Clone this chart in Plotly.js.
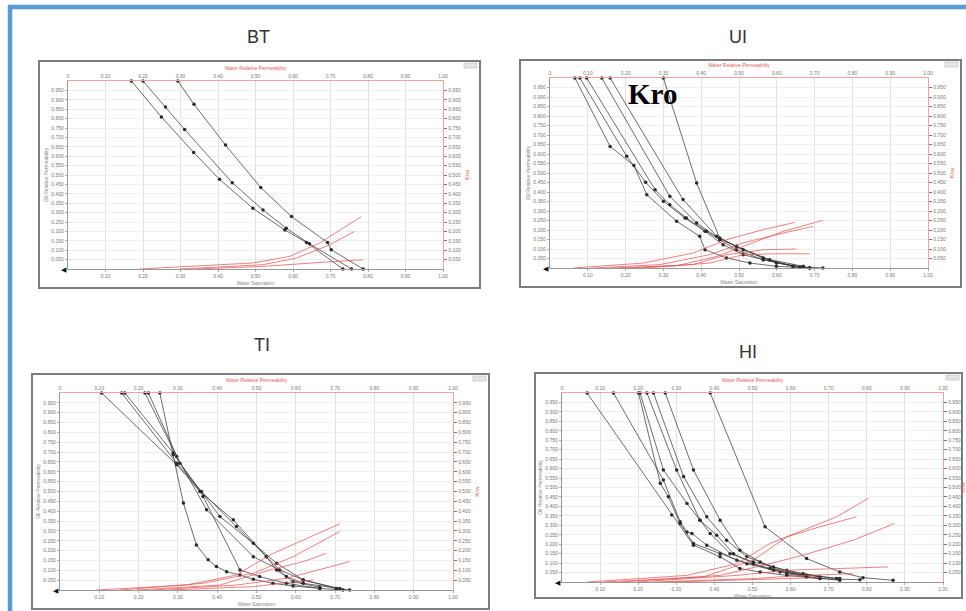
<!DOCTYPE html>
<html>
<head>
<meta charset="utf-8">
<script src="https://cdn.plot.ly/plotly-3.0.1.min.js"></script>
<style>html,body{margin:0;padding:0;background:#fff;}#chart{width:966px;height:611px;}</style>
</head>
<body>
<div id="chart"></div>
<script>
// ---------------- DATA (water saturation Sw, relative permeabilities) ----------------
const panelNames = ["BT", "UI", "TI", "HI"];
const axisTicks = [0.1,0.2,0.3,0.4,0.5,0.6,0.7,0.8,0.9,1];
const krTicks = [0.05,0.1,0.15,0.2,0.25,0.3,0.35,0.4,0.45,0.5,0.55,0.6,0.65,0.7,0.75,0.8,0.85,0.9,0.95];

// BT
const BT_kro_sw = [
  [0.169,0.249,0.335,0.404,0.493,0.578,0.636,0.733],
  [0.2,0.26,0.311,0.438,0.52,0.582,0.644,0.756],
  [0.293,0.336,0.42,0.514,0.596,0.692,0.702,0.787]
];
const BT_kro = [
  [1,0.809,0.62,0.477,0.323,0.208,0.141,0],
  [1,0.862,0.742,0.459,0.314,0.217,0.134,0],
  [1,0.876,0.659,0.433,0.279,0.141,0.102,0]
];
const BT_krw_sw = [
  [0.191,0.493,0.591,0.671,0.782],
  [0.298,0.52,0.609,0.698,0.764],
  [0.342,0.52,0.653,0.787]
];
const BT_krw = [
  [0,0.032,0.067,0.138,0.279],
  [0,0.023,0.058,0.129,0.2],
  [0,0.014,0.032,0.049]
];

// UI
const UI_kro_sw = [
  [0.066,0.159,0.222,0.256,0.335,0.396,0.41,0.467,0.529,0.599,0.687],
  [0.079,0.203,0.253,0.3,0.357,0.41,0.458,0.511,0.564,0.643,0.722],
  [0.097,0.278,0.317,0.361,0.414,0.449,0.493,0.564,0.661],
  [0.137,0.317,0.388,0.449,0.511,0.599,0.687],
  [0.159,0.352,0.441,0.493,0.581,0.67],
  [0.3,0.388,0.449,0.493,0.564,0.643]
];
const UI_kro = [
  [1,0.64,0.539,0.386,0.246,0.167,0.096,0.053,0.026,0.009,0],
  [1,0.588,0.451,0.351,0.263,0.193,0.123,0.07,0.044,0.009,0],
  [1,0.412,0.333,0.263,0.193,0.149,0.096,0.044,0.005],
  [1,0.377,0.237,0.153,0.096,0.026,0],
  [1,0.36,0.167,0.114,0.044,0.009],
  [1,0.447,0.158,0.114,0.053,0.009]
];
const UI_krw_sw = [
  [0.062,0.247,0.379,0.467,0.564,0.648],
  [0.115,0.291,0.423,0.511,0.617,0.696],
  [0.159,0.335,0.441,0.511,0.617,0.722],
  [0.203,0.379,0.467,0.564,0.652],
  [0.247,0.423,0.511,0.599,0.687]
];
const UI_krw = [
  [0,0.026,0.079,0.149,0.202,0.24],
  [0,0.018,0.07,0.132,0.184,0.219],
  [0,0.012,0.061,0.114,0.193,0.251],
  [0,0.018,0.07,0.096,0.1],
  [0,0.026,0.07,0.075,0.075]
];

// TI
const TI_kro_sw = [
  [0.106,0.297,0.356,0.441,0.525,0.576,0.619,0.703,0.737],
  [0.254,0.288,0.314,0.347,0.377,0.398,0.424,0.458,0.492,0.542,0.593,0.661,0.72],
  [0.157,0.297,0.36,0.449,0.525,0.551,0.593,0.661],
  [0.165,0.288,0.364,0.458,0.508,0.576,0.661],
  [0.216,0.297,0.373,0.492,0.559,0.619,0.703],
  [0.225,0.305,0.407,0.492,0.551,0.619,0.712]
];
const TI_kro = [
  [1,0.636,0.5,0.356,0.169,0.068,0.034,0.008,0],
  [1,0.686,0.441,0.229,0.153,0.119,0.093,0.076,0.054,0.034,0.02,0.008,0],
  [1,0.644,0.5,0.322,0.169,0.102,0.042,0.014],
  [1,0.695,0.475,0.102,0.068,0.034,0.008],
  [1,0.678,0.407,0.169,0.102,0.051,0.008],
  [1,0.644,0.373,0.237,0.136,0.051,0.007]
];
const TI_krw_sw = [
  [0.093,0.322,0.449,0.534,0.619,0.712],
  [0.153,0.364,0.492,0.593,0.712],
  [0.195,0.407,0.534,0.619,0.678],
  [0.237,0.449,0.576,0.661,0.737],
  [0.28,0.492,0.576,0.644]
];
const TI_krw = [
  [0,0.025,0.076,0.178,0.254,0.336],
  [0,0.034,0.085,0.169,0.297],
  [0,0.025,0.102,0.144,0.186],
  [0,0.025,0.059,0.102,0.144],
  [0,0.017,0.037,0.051]
];

// HI
const HI_kro_sw = [
  [0.066,0.288,0.345,0.415,0.467,0.52,0.59,0.677,0.782],
  [0.135,0.266,0.31,0.328,0.341,0.38,0.459,0.546,0.633,0.721],
  [0.201,0.258,0.279,0.31,0.345,0.415,0.485,0.555,0.642,0.729],
  [0.205,0.266,0.328,0.362,0.389,0.441,0.502,0.59,0.677],
  [0.223,0.301,0.362,0.406,0.45,0.502,0.572,0.642],
  [0.24,0.319,0.38,0.432,0.485,0.555,0.642,0.729],
  [0.271,0.345,0.415,0.467,0.52,0.59,0.677],
  [0.389,0.533,0.642,0.729,0.79,0.869]
];
const HI_kro = [
  [1,0.354,0.195,0.133,0.071,0.053,0.035,0.018,0.012],
  [1,0.54,0.319,0.265,0.257,0.195,0.115,0.071,0.044,0.018],
  [1,0.522,0.451,0.31,0.204,0.15,0.097,0.062,0.035,0.018],
  [1,0.593,0.416,0.327,0.257,0.15,0.106,0.062,0.027],
  [1,0.593,0.327,0.248,0.15,0.097,0.053,0.035],
  [1,0.558,0.345,0.221,0.133,0.08,0.027,0.009],
  [1,0.593,0.327,0.168,0.106,0.044,0.018],
  [1,0.292,0.124,0.053,0.023,0.009]
];
const HI_krw_sw = [
  [0.066,0.328,0.459,0.546,0.633,0.721,0.803],
  [0.109,0.371,0.502,0.59,0.677,0.773],
  [0.153,0.415,0.546,0.633,0.764,0.873],
  [0.197,0.459,0.59,0.721,0.856],
  [0.24,0.502,0.633,0.764],
  [0.284,0.52,0.677]
];
const HI_krw = [
  [0,0.035,0.097,0.204,0.274,0.345,0.442],
  [0,0.027,0.115,0.239,0.292,0.345],
  [0,0.035,0.097,0.142,0.221,0.31],
  [0,0.035,0.062,0.071,0.08],
  [0,0.018,0.035,0.044],
  [0,0.012,0.023]
];

const panelData = [
  {kroSw: BT_kro_sw, kro: BT_kro, krwSw: BT_krw_sw, krw: BT_krw},
  {kroSw: UI_kro_sw, kro: UI_kro, krwSw: UI_krw_sw, krw: UI_krw},
  {kroSw: TI_kro_sw, kro: TI_kro, krwSw: TI_krw_sw, krw: TI_krw},
  {kroSw: HI_kro_sw, kro: HI_kro, krwSw: HI_krw_sw, krw: HI_krw}
];

// ---------------- LAYOUT GEOMETRY (pixels) ----------------
const W = 966, H = 611;
const plotBox = [ // [left, right, top, bottom] of plot area
  [68, 443, 81, 269],
  [550, 928, 78, 268],
  [60, 453, 393, 590],
  [562, 943, 393, 582]
];
const frameBox = [ // [x0, y0, x1, y1]
  [39, 61, 480, 288],
  [520, 60, 961, 287],
  [32, 374, 489, 609],
  [535, 373, 962, 598]
];
const titlePos = [[258, 37], [738, 37], [262, 345], [748, 352]];

const px = v => v / W;
const py = v => 1 - v / H;

const BLACK = "rgba(50,50,50,0.8)";
const RED = "rgba(228,80,80,0.8)";
const PINK = "#f2a0a0";
const TICKF = {family: "Liberation Sans, Arial, sans-serif", size: 5, color: "#777"};

const traces = [];
const layout = {
  width: W, height: H,
  margin: {l: 0, r: 0, t: 0, b: 0},
  paper_bgcolor: "#ffffff",
  plot_bgcolor: "#ffffff",
  showlegend: false,
  shapes: [],
  annotations: []
};

for (let p = 0; p < 4; p++) {
  const xb = 2 * p + 1, xt = 2 * p + 2;
  const [L, R, T, B] = plotBox[p];
  const xdom = [px(L), px(R)];
  const ydom = [py(B), py(T)];
  const suf = n => (n === 1 ? "" : String(n));

  layout["xaxis" + suf(xb)] = {
    domain: xdom, range: [0, 1], anchor: "y" + suf(xb),
    tickvals: axisTicks, ticktext: axisTicks.map(v => v.toFixed(2)),
    tickfont: TICKF, ticks: "outside", ticklen: 2, tickcolor: "#aaa",
    showgrid: true, gridcolor: "#e0e0e0", gridwidth: 1,
    showline: true, linecolor: "#999", linewidth: 1.2,
    zeroline: false, fixedrange: true,
    title: {text: "Water Saturation", font: {family: "Liberation Sans, Arial", size: 5, color: "#888"}, standoff: 3}
  };
  layout["xaxis" + suf(xt)] = {
    overlaying: "x" + suf(xb), side: "top", range: [0, 1], anchor: "y" + suf(xt),
    tickvals: [0].concat(axisTicks), ticktext: ["0"].concat(axisTicks.map(v => v.toFixed(2))),
    tickfont: TICKF, ticks: "", showgrid: false,
    showline: true, linecolor: PINK, linewidth: 1.2, zeroline: false, fixedrange: true,
    title: {text: "Water Relative Permeability", font: {family: "Liberation Sans, Arial", size: 5, color: "#e06060"}, standoff: 2}
  };
  layout["yaxis" + suf(xb)] = {
    domain: ydom, range: [0, 1], anchor: "x" + suf(xb),
    tickvals: krTicks, ticktext: krTicks.map(v => v.toFixed(3)),
    tickfont: TICKF, ticks: "outside", ticklen: 2, tickcolor: "#aaa",
    showgrid: true, gridcolor: "#efefef", gridwidth: 1,
    showline: true, linecolor: "#999", linewidth: 1.2, zeroline: false, fixedrange: true,
    title: {text: "Oil Relative Permeability", font: {family: "Liberation Sans, Arial", size: 5, color: "#888"}, standoff: 2}
  };
  layout["yaxis" + suf(xt)] = {
    overlaying: "y" + suf(xb), side: "right", range: [0, 1], anchor: "x" + suf(xt),
    tickvals: krTicks, ticktext: krTicks.map(v => v.toFixed(3)),
    tickfont: TICKF, ticks: "outside", ticklen: 3, tickcolor: "#777",
    showgrid: false, showline: true, linecolor: PINK, linewidth: 1.2, zeroline: false, fixedrange: true,
    title: {text: "Krw", font: {family: "Liberation Sans, Arial", size: 6, color: "#e06060"}, standoff: 4}
  };

  const d = panelData[p];
  d.kro.forEach((ys, i) => {
    traces.push({
      type: "scatter", mode: "lines+markers",
      x: d.kroSw[i], y: ys,
      xaxis: "x" + suf(xb), yaxis: "y" + suf(xb),
      line: {color: BLACK, width: 0.9},
      marker: {color: "#2a2a2a", size: 3.5},
      cliponaxis: false, hoverinfo: "skip"
    });
  });
  d.krw.forEach((ys, i) => {
    traces.push({
      type: "scatter", mode: "lines",
      x: d.krwSw[i], y: ys,
      xaxis: "x" + suf(xt), yaxis: "y" + suf(xt),
      line: {color: RED, width: 0.9},
      hoverinfo: "skip"
    });
  });

  // panel frame
  const [fx0, fy0, fx1, fy1] = frameBox[p];
  layout.shapes.push({type: "rect", xref: "paper", yref: "paper",
    x0: px(fx0), x1: px(fx1), y0: py(fy1), y1: py(fy0),
    line: {color: "#7d7d7d", width: 2}, fillcolor: "rgba(0,0,0,0)", layer: "below"});
  // small legend button top-right
  layout.shapes.push({type: "rect", xref: "paper", yref: "paper",
    x0: px(fx1 - 16), x1: px(fx1 - 3), y0: py(fy0 + 7), y1: py(fy0 + 2),
    line: {color: "#bbb", width: 0.6}, fillcolor: "#e6e6e6"});
  // panel title
  layout.annotations.push({xref: "paper", yref: "paper",
    x: px(titlePos[p][0]), y: py(titlePos[p][1]), text: panelNames[p], showarrow: false,
    xanchor: "center", yanchor: "middle",
    font: {family: "Liberation Sans, Arial, sans-serif", size: 18, color: "#333"}});
  // origin marker
  layout.annotations.push({xref: "paper", yref: "paper",
    x: px(L - 4), y: py(B + 1), text: "◀", showarrow: false,
    xanchor: "center", yanchor: "middle",
    font: {family: "DejaVu Sans", size: 7, color: "#111"}});
}

// outer blue frame
layout.shapes.push({type: "rect", xref: "paper", yref: "paper",
  x0: px(10), x1: px(980), y0: py(625), y1: py(7),
  line: {color: "#5b9bd5", width: 4.5}, fillcolor: "rgba(0,0,0,0)"});

// Kro label
layout.annotations.push({xref: "paper", yref: "paper",
  x: px(652), y: py(94), text: "<b>Kro</b>", showarrow: false,
  xanchor: "center", yanchor: "middle",
  font: {family: "Liberation Serif, Times New Roman, serif", size: 29, color: "#000"}});

Plotly.newPlot("chart", traces, layout, {staticPlot: true, displayModeBar: false});
</script>
</body>
</html>
